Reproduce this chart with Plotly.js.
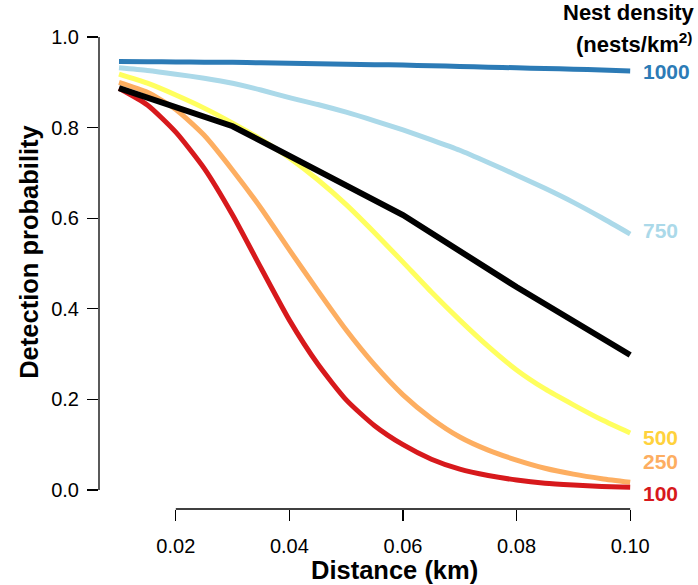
<!DOCTYPE html>
<html><head><meta charset="utf-8">
<script src="https://cdn.plot.ly/plotly-3.0.1.min.js"></script>
<style>html,body{margin:0;padding:0;background:#fff}#chart{width:698px;height:585px}</style>
</head><body><div id="chart"></div>
<script>
const distance = [0.01,0.015,0.02,0.025,0.03,0.035,0.04,0.045,0.05,0.055,0.06,0.065,0.07,0.075,0.08,0.085,0.09,0.095,0.10];
const p1000 = [0.946,0.9455,0.945,0.9445,0.944,0.943,0.942,0.941,0.940,0.939,0.938,0.9365,0.935,0.9335,0.932,0.9305,0.929,0.927,0.925];
const p750  = [0.932,0.926,0.918,0.909,0.898,0.883,0.866,0.851,0.834,0.815,0.795,0.773,0.750,0.723,0.695,0.666,0.635,0.601,0.565];
const p500  = [0.918,0.898,0.872,0.843,0.810,0.774,0.733,0.685,0.630,0.568,0.503,0.437,0.375,0.317,0.265,0.223,0.188,0.155,0.126];
const p250  = [0.900,0.878,0.840,0.783,0.706,0.622,0.530,0.440,0.353,0.276,0.210,0.158,0.117,0.088,0.066,0.048,0.035,0.025,0.017];
const p100  = [0.887,0.850,0.790,0.710,0.607,0.490,0.375,0.278,0.199,0.142,0.100,0.068,0.046,0.032,0.022,0.015,0.011,0.008,0.006];
const blackX = [0.01,0.03,0.06,0.08,0.10];
const blackY = [0.887,0.803,0.607,0.448,0.298];
const densityLabels = ['1000','750','500','250','100'];
const xTicks = [0.02,0.04,0.06,0.08,0.10];
const xTickText = ['0.02','0.04','0.06','0.08','0.10'];
const yTicks = [0,0.2,0.4,0.6,0.8,1.0];
const yTickText = ['0.0','0.2','0.4','0.6','0.8','1.0'];

const lineColors = ['#2C7BB6','#ABD9E9','#FFFF5E','#FDAE61','#D7191C'];
const labelColors = ['#2C7BB6','#ABD9E9','#FFD23C','#FDAE61','#D7191C'];
const series = [p1000,p750,p500,p250,p100];
const labelY = [0.923,0.572,0.117,0.062,-0.007];
const FONT = 'Liberation Sans, Arial, sans-serif';

const traces = series.map((s,i)=>({x:distance,y:s,type:'scatter',mode:'lines',
  line:{color:lineColors[i],width:5,shape:'spline',smoothing:0.6},hoverinfo:'skip'}));
traces.push({x:blackX,y:blackY,type:'scatter',mode:'lines',line:{color:'#000',width:6},hoverinfo:'skip'});

const annotations = densityLabels.map((t,i)=>({xref:'x',yref:'y',x:0.1019,y:labelY[i],text:'<b>'+t+'</b>',
  showarrow:false,xanchor:'left',yanchor:'middle',font:{family:FONT,size:21,color:labelColors[i]}}));
annotations.push({xref:'paper',yref:'paper',x:1.086,y:1.016,text:'<b>Nest density</b>',showarrow:false,xanchor:'right',yanchor:'middle',
  font:{family:FONT,size:22,color:'#000'}});
annotations.push({xref:'paper',yref:'paper',x:1.08,y:0.952,text:'<b>(nests/km<sup>2)</sup></b>',showarrow:false,xanchor:'right',yanchor:'middle',
  font:{family:FONT,size:22,color:'#000'}});
annotations.push({xref:'paper',yref:'paper',x:0.536,y:-0.125,text:'<b>Distance (km)</b>',showarrow:false,xanchor:'center',yanchor:'middle',
  font:{family:FONT,size:25.5,color:'#000'}});
annotations.push({xref:'paper',yref:'paper',x:-0.127,y:0.526,text:'<b>Detection probability</b>',textangle:-90,showarrow:false,xanchor:'center',yanchor:'middle',
  font:{family:FONT,size:25.5,color:'#000'}});

const layout = {
  width:698,height:585,margin:{l:99,r:48,t:20,b:76},
  paper_bgcolor:'#fff',plot_bgcolor:'#fff',showlegend:false,
  font:{family:FONT,size:20,color:'#000'},
  xaxis:{range:[0.006479,0.10349],tickvals:xTicks,ticktext:xTickText,ticks:'outside',ticklen:11,tickwidth:1.3,tickcolor:'#000',
    tickfont:{family:FONT,size:20,color:'#000'},ticklabelstandoff:8,
    showgrid:false,zeroline:false,showline:false},
  yaxis:{range:[-0.04194,1.03753],tickvals:yTicks,ticktext:yTickText,ticks:'outside',ticklen:11,tickwidth:1.3,tickcolor:'#000',
    tickfont:{family:FONT,size:20,color:'#000'},ticklabelstandoff:4,
    showgrid:false,zeroline:false,showline:false},
  shapes:[
    {type:'line',xref:'paper',yref:'y',x0:0,x1:0,y0:0,y1:1,line:{color:'#000',width:1.3}},
    {type:'line',xref:'x',yref:'paper',x0:0.02,x1:0.10,y0:0,y1:0,line:{color:'#000',width:1.3}}
  ],
  annotations:annotations
};
Plotly.newPlot('chart',traces,layout,{staticPlot:true});
</script></body></html>
